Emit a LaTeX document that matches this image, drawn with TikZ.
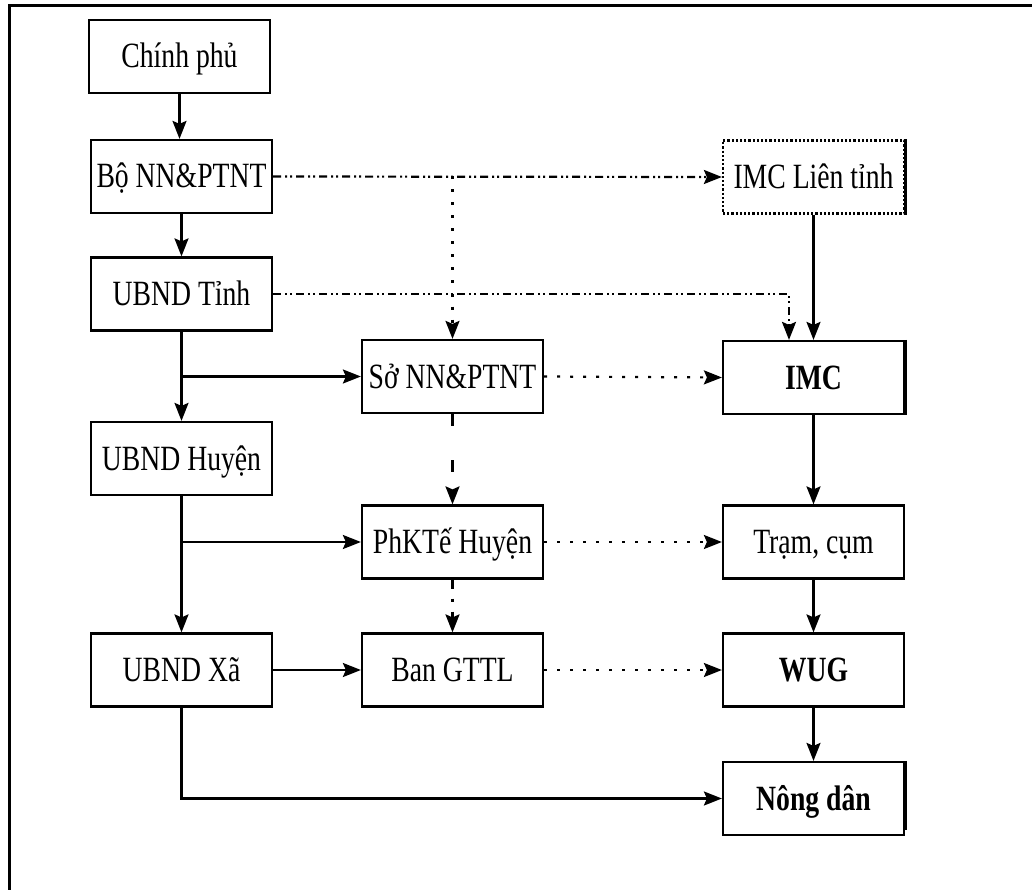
\documentclass[tikz,border=0pt]{standalone}
\usepackage{fontspec}
\setmainfont{Liberation Serif}[FakeStretch=0.78]
\usetikzlibrary{arrows.meta}
\begin{document}
\begin{tikzpicture}[x=1pt,y=-1pt,
  box/.style={draw, line width=2.2pt, minimum width=181pt, minimum height=73pt,
    inner sep=0pt, text height=23pt, text depth=0pt,
    font=\fontsize{35.5}{40}\selectfont},
  boldbox/.style={box, font=\fontsize{35.5}{40}\selectfont\bfseries},
  tip/.style={-{Stealth[length=18pt,width=14pt,inset=3pt]}},
  conn/.style={tip, line width=2.2pt},
  dashdotdot/.style={conn, dash pattern=on 8pt off 4pt on 2pt off 3pt on 2pt off 4pt},
  dotline/.style={conn, dash pattern=on 3pt off 10pt},
  sparse/.style={conn, dash pattern=on 12pt off 34pt},
  dashdotline/.style={conn, dash pattern=on 9pt off 10pt on 3pt off 10pt},
  thickedge/.style={line width=3.2pt}]
\useasboundingbox (0,0) rectangle (1032,890);

% outer frame
\draw[line width=3pt] (9.5,890) -- (9.5,6) -- (1032,6);

% left column: administration
\node[box] (cp)    at (179.5,56.5) {Chính phủ};
\node[box] (bo)    at (181.5,176.5) {Bộ NN\&PTNT};
\node[box] (tinh)  at (181.5,294)   {UBND Tỉnh};
\node[box] (huyen) at (181.5,458.5) {UBND Huyện};
\node[box] (xa)    at (181.5,670)   {UBND Xã};

% middle column: agencies
\node[box] (so)  at (452.5,376.5) {Sở NN\&PTNT};
\node[box] (phk) at (452.5,542)   {PhKTế Huyện};
\node[box] (ban) at (452.5,670)   {Ban GTTL};

% right column: irrigation management
\node[box, dotted] (imclt) at (813.5,177) {IMC Liên tỉnh};
\draw[thickedge] (imclt.north east) -- (imclt.south east);
\node[boldbox] (imc)  at (813.5,377.5) {IMC};
\draw[thickedge] (imc.north east) -- (imc.south east);
\node[box]     (tram) at (813.5,542)   {Trạm, cụm};
\node[boldbox] (wug)  at (813.5,670)   {WUG};
\node[boldbox] (nong) at (813.5,798.5) {Nông dân};
\draw[thickedge] (nong.north east) -- ([yshift=6pt]nong.south east);

% vertical chain on the left
\draw[conn] (cp.south) -- (cp.south |- bo.north);
\draw[conn] (bo.south) -- (tinh.north);
\draw[conn] (tinh.south) -- (huyen.north);
\draw[conn] (tinh.south |- so.west) -- (so.west);
\draw[conn] (huyen.south) -- (xa.north);
\draw[conn] (huyen.south |- phk.west) -- (phk.west);
\draw[conn] (xa.east) -- (ban.west);
\draw[conn] (xa.south) |- (nong.west);

% ministry and province links
\draw[dashdotdot] (bo.east) -- (imclt.west);
\draw[dotline] (so.north |- bo.east) -- (so.north);
\coordinate (tinhturn) at ([xshift=-24.5pt]imc.north |- tinh.east);
\draw[dashdotdot] (tinh.east) -- (tinhturn) -- ([xshift=-24.5pt]imc.north);
\draw[conn] (imclt.south) -- (imc.north);

% middle column links
\draw[sparse] (so.south) -- (phk.north);
\draw[dashdotline] (phk.south) -- (ban.north);
\draw[dotline] (so.east) -- (imc.west);
\draw[dotline] (phk.east) -- (tram.west);
\draw[dotline] (ban.east) -- (wug.west);

% right column chain
\draw[conn] (imc.south) -- (tram.north);
\draw[conn] (tram.south) -- (wug.north);
\draw[conn] (wug.south) -- (nong.north);
\end{tikzpicture}
\end{document}
